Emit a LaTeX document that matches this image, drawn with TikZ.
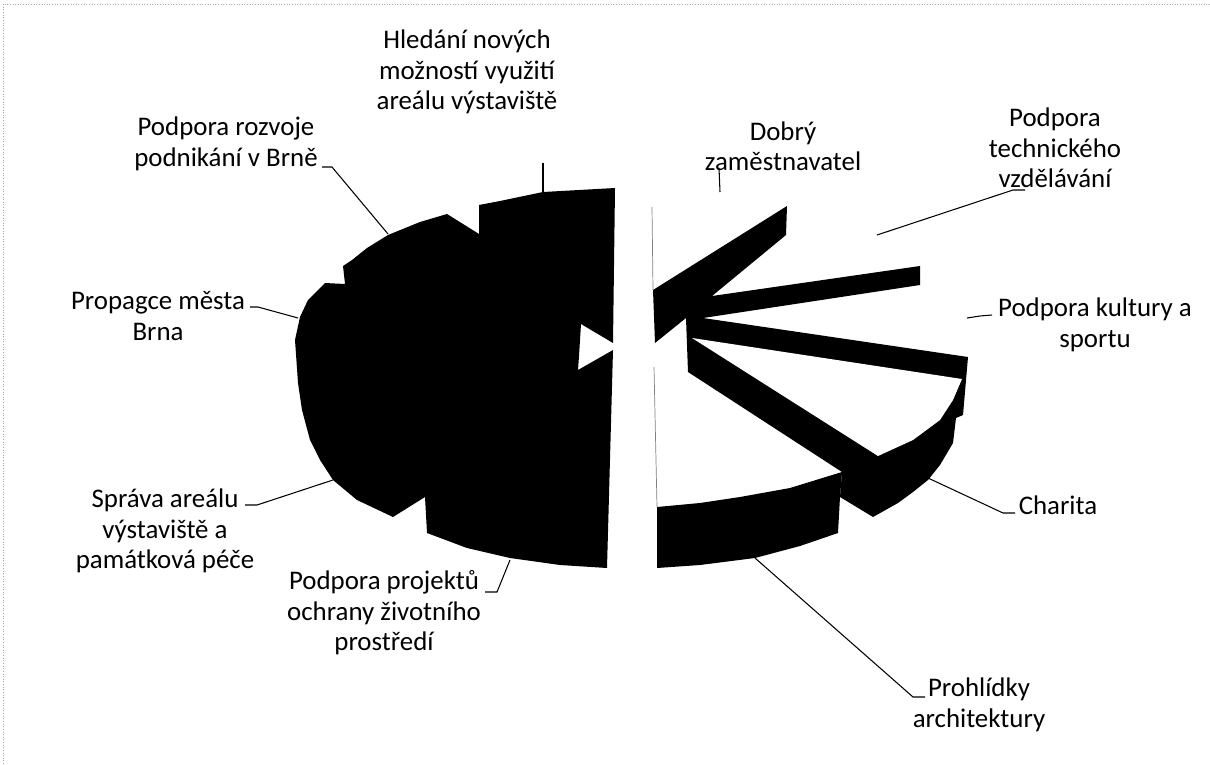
\documentclass[tikz,border=0pt]{standalone}
\usepackage{fontspec}
\setmainfont{Carlito}
\tikzset{
  lbl/.style={font=\fontsize{15.3}{17.3}\selectfont, align=center, inner sep=0pt},
  leader/.style={line width=0.6pt},
  side/.style={fill=black},
  seam/.style={gray, line width=0.4pt}
}
\begin{document}
\begin{tikzpicture}[x=0.02cm,y=-0.02cm]
\useasboundingbox (0,0) rectangle (1210,764);
\draw[gray!70, densely dotted, line width=0.5pt] (3,764) -- (3,4) -- (1210,4);

% left half
\fill[side] (615,188) -- (613,343) -- (581,324) -- (579,356) -- (578,370) -- (613,350) -- (607,568)
  -- (560,565) -- (510,558) -- (467,548) -- (427,533) -- (425,497) -- (393,517) -- (357,500)
  -- (333,480) -- (320,460) -- (310,440) -- (302,410) -- (298,383) -- (295,340) -- (300,317)
  -- (308,300) -- (325,283) -- (345,284) -- (343,266) -- (352,260) -- (367,248) -- (388,235)
  -- (420,222) -- (447,214) -- (479,234) -- (479,205) -- (500,201) -- (543,192) -- cycle;

% right half
\fill[side] (653,290) -- (787,206) -- (786,235) -- (712,296) -- (920,266) -- (920,285) -- (703,318)
  -- (968,357) -- (963,415) -- (956,418) -- (953,443) -- (940,465) -- (928,480) -- (913,492)
  -- (898,503) -- (873,517) -- (840,497) -- (842,472) -- (688,372) -- (686,318) -- (655,343) -- cycle;
\fill[white] (692,338) -- (962,379) -- (953,400) -- (940,420) -- (913,440) -- (878,456) -- cycle;
\fill[side] (657,507) -- (700,503) -- (740,497) -- (790,488) -- (842,472) -- (840,497) -- (838,533)
  -- (800,546) -- (755,558) -- (700,565) -- (657,568) -- cycle;
\draw[seam] (652,207) -- (653,290);
\draw[seam] (654,367) -- (657,507);

% labels
\node[lbl] (hled) at (467,72) {Hledání nových\\možností využití\\areálu výstaviště};
\node[lbl] (dobry) at (783,146) {Dobrý\\zaměstnavatel};
\node[lbl] (tech) at (1055,148) {Podpora\\technického\\vzdělávání};
\node[lbl] (kult) at (1095,325) {Podpora kultury a\\sportu};
\node[lbl] (charita) at (1058,505) {Charita};
\node[lbl] (prohl) at (979,705) {Prohlídky\\architektury};
\node[lbl] (projekt) at (384,613) {Podpora projektů\\ochrany životního\\prostředí};
\node[lbl] (sprava) at (165,531) {Správa areálu\\výstaviště a\\památková péče};
\node[lbl] (propag) at (158,316) {Propagce města\\Brna};
\node[lbl] (rozvoj) at (226,144) {Podpora rozvoje\\podnikání v Brně};

% leader lines
\coordinate (hledT) at (543,163);   \coordinate (hledP) at (543,192);
\coordinate (dobryT) at (719,168);  \coordinate (dobryP) at (720,192);
\coordinate (techT) at (1025,190);  \coordinate (techP) at (877,235);
\coordinate (kultT) at (992,315);   \coordinate (kultP) at (967,318);
\coordinate (charitaT) at (1015,513); \coordinate (charitaP) at (928,478);
\coordinate (prohlT) at (925,697);  \coordinate (prohlP) at (755,558);
\coordinate (projektT) at (485,592); \coordinate (projektP) at (510,560);
\coordinate (spravaT) at (245,505); \coordinate (spravaP) at (333,480);
\coordinate (propagT) at (250,307); \coordinate (propagP) at (298,318);
\coordinate (rozvojT) at (322,167); \coordinate (rozvojP) at (388,234);

\draw[leader] (hledT) -- (hledP);
\draw[leader] (dobryT) -- (dobryP);
\draw[leader] (techT) -- ++(-12,0) -- (techP);
\draw[leader] (kultT) -- ++(-12,1) -- (kultP);
\draw[leader] (charitaT) -- ++(-12,0) -- (charitaP);
\draw[leader] (prohlT) -- ++(-12,0) -- (prohlP);
\draw[leader] (projektT) -- ++(12,0) -- (projektP);
\draw[leader] (spravaT) -- ++(12,0) -- (spravaP);
\draw[leader] (propagT) -- ++(8,0) -- (propagP);
\draw[leader] (rozvojT) -- ++(10,0) -- (rozvojP);
\end{tikzpicture}
\end{document}
